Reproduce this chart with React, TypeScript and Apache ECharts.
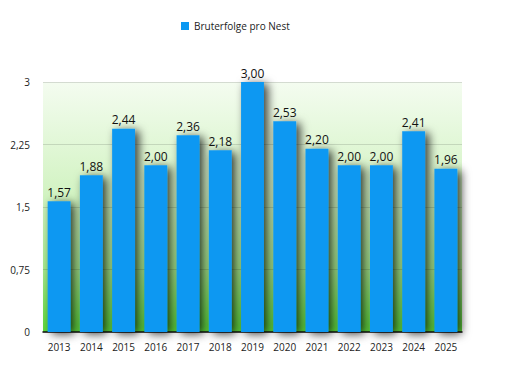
import React, { useEffect, useRef } from "react";
import * as echarts from "echarts";

const categories = ["2013", "2014", "2015", "2016", "2017", "2018", "2019", "2020", "2021", "2022", "2023", "2024", "2025"];
const values = [1.57, 1.88, 2.44, 2.0, 2.36, 2.18, 3.0, 2.53, 2.2, 2.0, 2.0, 2.41, 1.96];
const seriesName = "Bruterfolge pro Nest";

const fmt = (v: number, digits: number) => v.toFixed(digits).replace(".", ",");

export default function App() {
  const ref = useRef<HTMLDivElement>(null);
  useEffect(() => {
    if (!ref.current) return;
    const chart = echarts.init(ref.current, null, { renderer: "svg" });
    const font = "Open Sans";
    chart.setOption({
      animation: false,
      backgroundColor: "#ffffff",
      textStyle: { fontFamily: font },
      legend: {
        top: 16,
        left: 176,
        itemWidth: 8,
        itemHeight: 8,
        itemGap: 7,
        icon: "rect",
        textStyle: { fontFamily: font, fontSize: 10, color: "#222" },
        data: [seriesName],
      },
      grid: {
        left: 43,
        right: 44,
        top: 82,
        bottom: 40,
        show: true,
        borderWidth: 0,
        backgroundColor: new echarts.graphic.LinearGradient(0, 0, 0, 1, [
          { offset: 0, color: "#f4fcf0" },
          { offset: 0.45, color: "#d2f3c2" },
          { offset: 0.75, color: "#a6e88c" },
          { offset: 1, color: "#5cd83a" },
        ]),
      },
      xAxis: {
        type: "category",
        data: categories,
        axisLine: { lineStyle: { color: "#111", width: 1.5 } },
        axisTick: { show: false },
        axisLabel: { fontFamily: font, fontSize: 10, color: "#222", margin: 10 },
      },
      yAxis: {
        type: "value",
        min: 0,
        max: 3,
        interval: 0.75,
        axisLine: { show: false },
        axisTick: { show: false },
        axisLabel: {
          fontFamily: font,
          fontSize: 10,
          color: "#222",
          margin: 13,
          formatter: (v: number) => (v === 0 || v === 3 ? String(v) : fmt(v, v === 1.5 ? 1 : 2)),
        },
        splitLine: { lineStyle: { color: "rgba(0,0,0,0.13)", width: 1 } },
      },
      series: [
        {
          name: seriesName,
          type: "bar",
          data: values,
          barWidth: "71%",
          itemStyle: {
            color: "#0a98f2",
            shadowColor: "rgba(0,0,0,0.75)",
            shadowBlur: 10,
            shadowOffsetX: 4,
            shadowOffsetY: 2,
          },
          label: {
            show: true,
            position: "top",
            distance: 3,
            fontFamily: font,
            fontSize: 12,
            color: "#111",
            formatter: (p: any) => fmt(p.value, 2),
          },
        },
      ],
    });
    return () => chart.dispose();
  }, []);
  return <div ref={ref} style={{ width: 506, height: 372, margin: -8 }} />;
}
